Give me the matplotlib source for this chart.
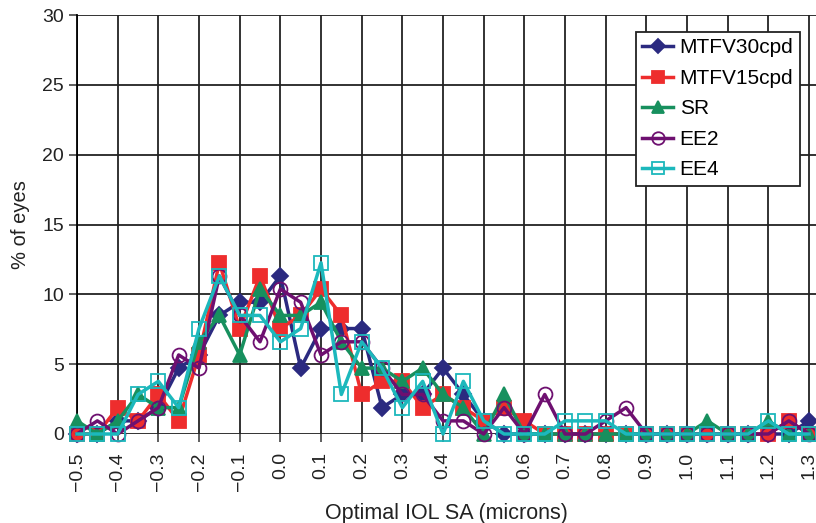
import numpy as np
import matplotlib
matplotlib.use('Agg')
import matplotlib.pyplot as plt
from matplotlib.ticker import MultipleLocator

plt.rcParams['font.family'] = ['Liberation Sans', 'DejaVu Sans']

# optimal IOL spherical aberration bins (microns)
sa_bins = [-0.5, -0.45, -0.4, -0.35, -0.3, -0.25, -0.2, -0.15, -0.1, -0.05,
           0.0, 0.05, 0.1, 0.15, 0.2, 0.25, 0.3, 0.35, 0.4, 0.45,
           0.5, 0.55, 0.6, 0.65, 0.7, 0.75, 0.8, 0.85, 0.9, 0.95,
           1.0, 1.05, 1.1, 1.15, 1.2, 1.25, 1.3]

# % of eyes per bin
mtfv30 = [0, 0, 0.94, 0.94, 1.89, 4.72, 5.66, 8.49, 9.43, 9.43,
          11.32, 4.72, 7.55, 7.55, 7.55, 1.89, 2.83, 2.83, 4.72, 2.83,
          0.94, 0, 0, 0, 0, 0, 0, 0, 0, 0,
          0, 0, 0, 0, 0, 0, 0.94]
mtfv15 = [0, 0, 1.89, 0.94, 2.83, 0.94, 5.66, 12.26, 7.55, 11.32,
          7.55, 8.49, 10.38, 8.49, 2.83, 3.77, 3.77, 1.89, 2.83, 1.89,
          0.94, 1.89, 0.94, 0, 0, 0, 0, 0, 0, 0,
          0, 0, 0, 0, 0, 0.94, 0]
sr = [0.94, 0, 0.94, 2.83, 1.89, 1.89, 6.6, 8.49, 5.66, 10.38,
      8.49, 8.49, 9.43, 6.6, 4.72, 4.72, 3.77, 4.72, 2.83, 1.89,
      0, 2.83, 0, 0, 0, 0, 0, 0, 0, 0,
      0, 0.94, 0, 0, 0.94, 0, 0]
ee2 = [0, 0.94, 0, 0.94, 1.89, 5.66, 4.72, 11.32, 8.49, 6.6,
       10.38, 9.43, 5.66, 6.6, 6.6, 4.72, 2.83, 2.83, 0.94, 0.94,
       0, 1.89, 0, 2.83, 0, 0, 0.94, 1.89, 0, 0,
       0, 0, 0, 0, 0, 0.94, 0]
ee4 = [0, 0, 0, 2.83, 3.77, 1.89, 7.55, 11.32, 8.49, 8.49,
       6.6, 7.55, 12.26, 2.83, 6.6, 4.72, 1.89, 3.77, 0, 3.77,
       0.94, 0, 0, 0, 0.94, 0.94, 0.94, 0, 0, 0,
       0, 0, 0, 0, 0.94, 0, 0]

x_ticks = [-0.5, -0.4, -0.3, -0.2, -0.1, 0.0, 0.1, 0.2, 0.3, 0.4,
           0.5, 0.6, 0.7, 0.8, 0.9, 1.0, 1.1, 1.2, 1.3]

fig = plt.figure(figsize=(8.16, 5.23), dpi=100)
ax = fig.add_axes([77 / 816, 89 / 523, 739 / 816, 419 / 523])

series = [
    ('MTFV30cpd', mtfv30, '#2b2a80', 'D', 8, '#2b2a80'),
    ('MTFV15cpd', mtfv15, '#ee2d2d', 's', 10, '#ee2d2d'),
    ('SR', sr, '#17905e', '^', 10, '#17905e'),
    ('EE2', ee2, '#6e1070', 'o', 10, 'none'),
    ('EE4', ee4, '#1cb8bc', 's', 10, 'none'),
]
for name, vals, col, mk, ms, mfc in series:
    ax.plot(sa_bins, vals, color=col, lw=2.5, marker=mk, markersize=ms,
            markerfacecolor=mfc, markeredgecolor=col, markeredgewidth=1.3,
            label=name, clip_on=False, zorder=3)

ax.set_xlim(-0.5, 1.317)
ax.set_ylim(0, 30)
ax.xaxis.set_major_locator(MultipleLocator(0.1))
ax.yaxis.set_major_locator(MultipleLocator(5))
ax.set_xticks(x_ticks)
ax.set_xticklabels([f'{t:.1f}'.replace('-', '\u2212') for t in x_ticks],
                   rotation=90)
ax.grid(True, color='#222222', lw=1.3)
ax.set_axisbelow(True)
ax.tick_params(axis='both', labelsize=14, length=6, width=1.2,
               color='#444444', labelcolor='#222222')
ax.tick_params(axis='x', pad=7)
for s in ['top', 'right', 'bottom']:
    ax.spines[s].set_visible(False)
ax.spines['left'].set_linewidth(1.3)

ax.set_xlabel('Optimal IOL SA (microns)', fontsize=15.5, color='#222222',
              labelpad=9)
ax.set_ylabel('% of eyes', fontsize=14.5, color='#222222', labelpad=9)

leg = ax.legend(loc='upper right', bbox_to_anchor=(0.978, 0.959),
                borderaxespad=0, fontsize=15, frameon=True, fancybox=False,
                edgecolor='#222222', framealpha=1, handlelength=1.5,
                handletextpad=0.3, labelspacing=0.55, borderpad=0.3,
                markerscale=0.9)
leg.get_frame().set_linewidth(1.3)

fig.savefig('out.png', dpi=100)
